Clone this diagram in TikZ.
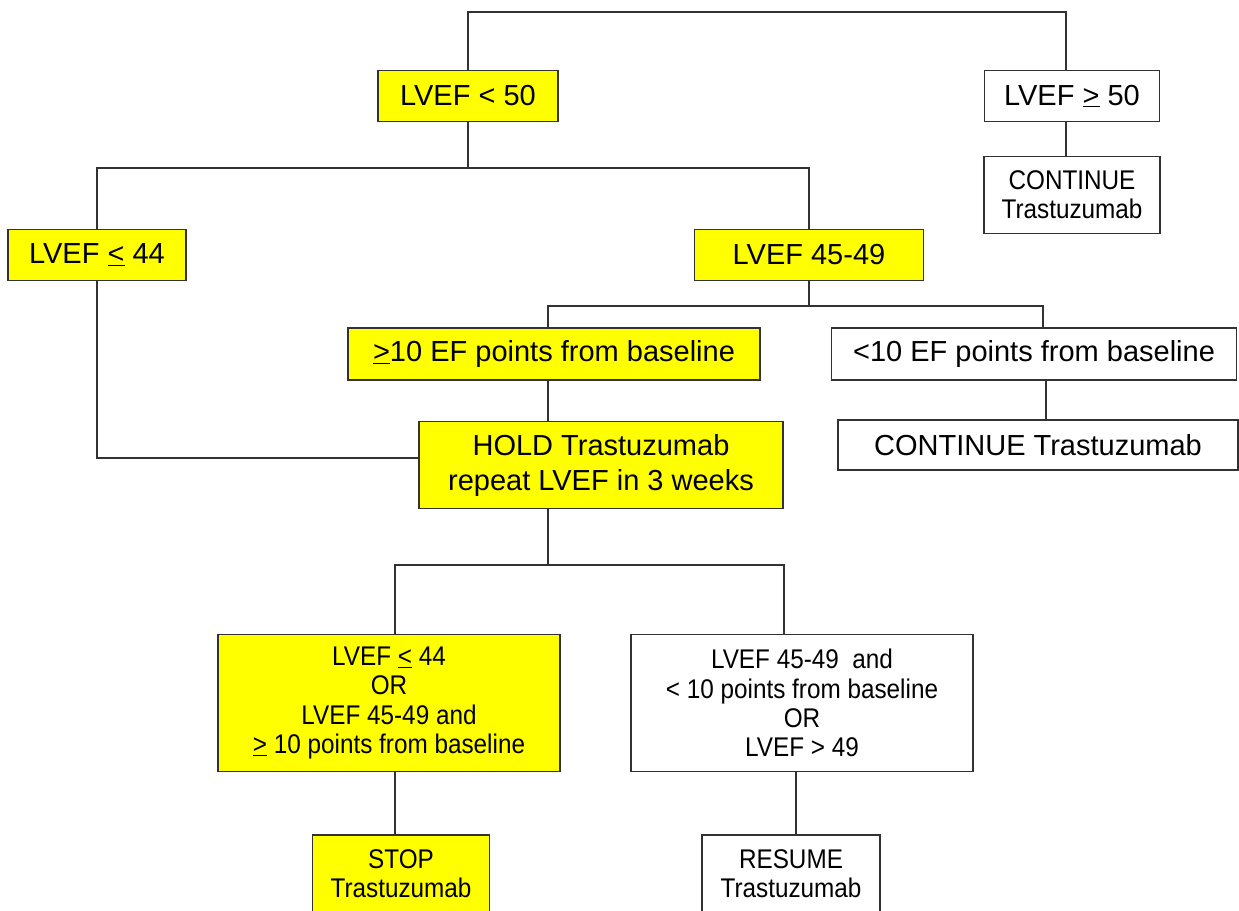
\documentclass[tikz,border=0pt]{standalone}
\usepackage{fontspec}
\setmainfont{Liberation Sans}
\newfontfamily\narrowfont[FakeStretch=0.9]{Liberation Sans}
\definecolor{boxyellow}{RGB}{255,255,0}
\definecolor{boxline}{RGB}{50,50,50}
\tikzstyle{box}=[draw=boxline,line width=1.6pt,align=center,inner sep=0pt]
\tikzstyle{stopbox}=[box,fill=boxyellow]
\tikzstyle{gobox}=[box,fill=white]
\tikzstyle{big}=[font=\fontsize{29}{35}\selectfont]
\tikzstyle{narrow}=[font=\narrowfont\fontsize{27}{29.3}\selectfont]
\tikzstyle{link}=[draw=boxline,line width=1.6pt]

\begin{document}
\begin{tikzpicture}[x=1pt,y=-1pt]
  \clip (0,0) rectangle (1239,910);
  \fill[white] (0,0) rectangle (1239,910);

  % first split
  \node[stopbox,big,minimum width=180pt,minimum height=51pt] (lowfifty) at (468,96) {LVEF < 50};
  \node[gobox,big,minimum width=175pt,minimum height=51pt] (highfifty) at (1072,96) {LVEF \underline{>} 50};
  \node[gobox,narrow,minimum width=176pt,minimum height=77pt] (keepon) at (1072,195) {CONTINUE\\Trastuzumab};

  % second split
  \node[stopbox,big,minimum width=178pt,minimum height=51pt] (lowfour) at (97,255) {LVEF \underline{<} 44};
  \node[stopbox,big,minimum width=229pt,minimum height=51pt] (midrange) at (809,255) {LVEF 45-49};
  \node[stopbox,big,minimum width=412pt,minimum height=52pt] (bigdrop) at (554,354) {\underline{>}10 EF points from baseline};
  \node[gobox,big,minimum width=405pt,minimum height=52pt] (smalldrop) at (1034,354) {<10 EF points from baseline};
  \node[stopbox,big,minimum width=364pt,minimum height=87pt] (hold) at (601,465) {HOLD Trastuzumab\\repeat LVEF in 3 weeks};
  \node[gobox,big,minimum width=400pt,minimum height=50pt] (keepgoing) at (1038,445) {CONTINUE Trastuzumab};

  % after the repeat
  \node[stopbox,narrow,minimum width=342pt,minimum height=137pt] (fail) at (389,703) {LVEF \underline{<} 44\\OR\\LVEF 45-49 and\\\underline{>} 10 points from baseline};
  \node[gobox,narrow,minimum width=342pt,minimum height=137pt] (pass) at (802,703) {LVEF 45-49\ \ and\\< 10 points from baseline\\OR\\LVEF > 49};
  \node[stopbox,narrow,minimum width=177pt,minimum height=78pt] (stop) at (401,874) {STOP\\Trastuzumab};
  \node[gobox,narrow,minimum width=178pt,minimum height=78pt] (resume) at (791,874) {RESUME\\Trastuzumab};

  \coordinate (topbar) at (766,12);
  \coordinate (split1) at (466,168);
  \coordinate (split2) at (808,306);
  \coordinate (split3) at (548,565);

  \draw[link] (lowfifty.north) |- (topbar) -| ([xshift=-6pt]highfifty.north);
  \draw[link] ([xshift=-6pt]highfifty.south) -- ([xshift=-6pt]keepon.north);
  \draw[link] (lowfifty.south) -- (lowfifty.south |- split1);
  \draw[link] (lowfour.north) |- (split1) -| (midrange.north);
  \draw[link] (midrange.south) -- (midrange.south |- split2);
  \draw[link] ([xshift=-6pt]bigdrop.north) |- (split2) -| ([xshift=9pt]smalldrop.north);
  \draw[link] ([xshift=-6pt]bigdrop.south) -- ([xshift=-6pt]bigdrop.south |- hold.north);
  \draw[link] ([xshift=12pt]smalldrop.south) -- ([xshift=12pt]smalldrop.south |- keepgoing.north);
  \draw[link] (lowfour.south) |- ([yshift=7pt]hold.west);
  \draw[link] (split3 |- hold.south) -- (split3);
  \draw[link] ([xshift=6pt]fail.north) |- (split3) -| ([xshift=-18pt]pass.north);
  \draw[link] ([xshift=6pt]fail.south) -- ([xshift=6pt]fail.south |- stop.north);
  \draw[link] ([xshift=-6pt]pass.south) -- ([xshift=-6pt]pass.south |- resume.north);
\end{tikzpicture}
\end{document}
